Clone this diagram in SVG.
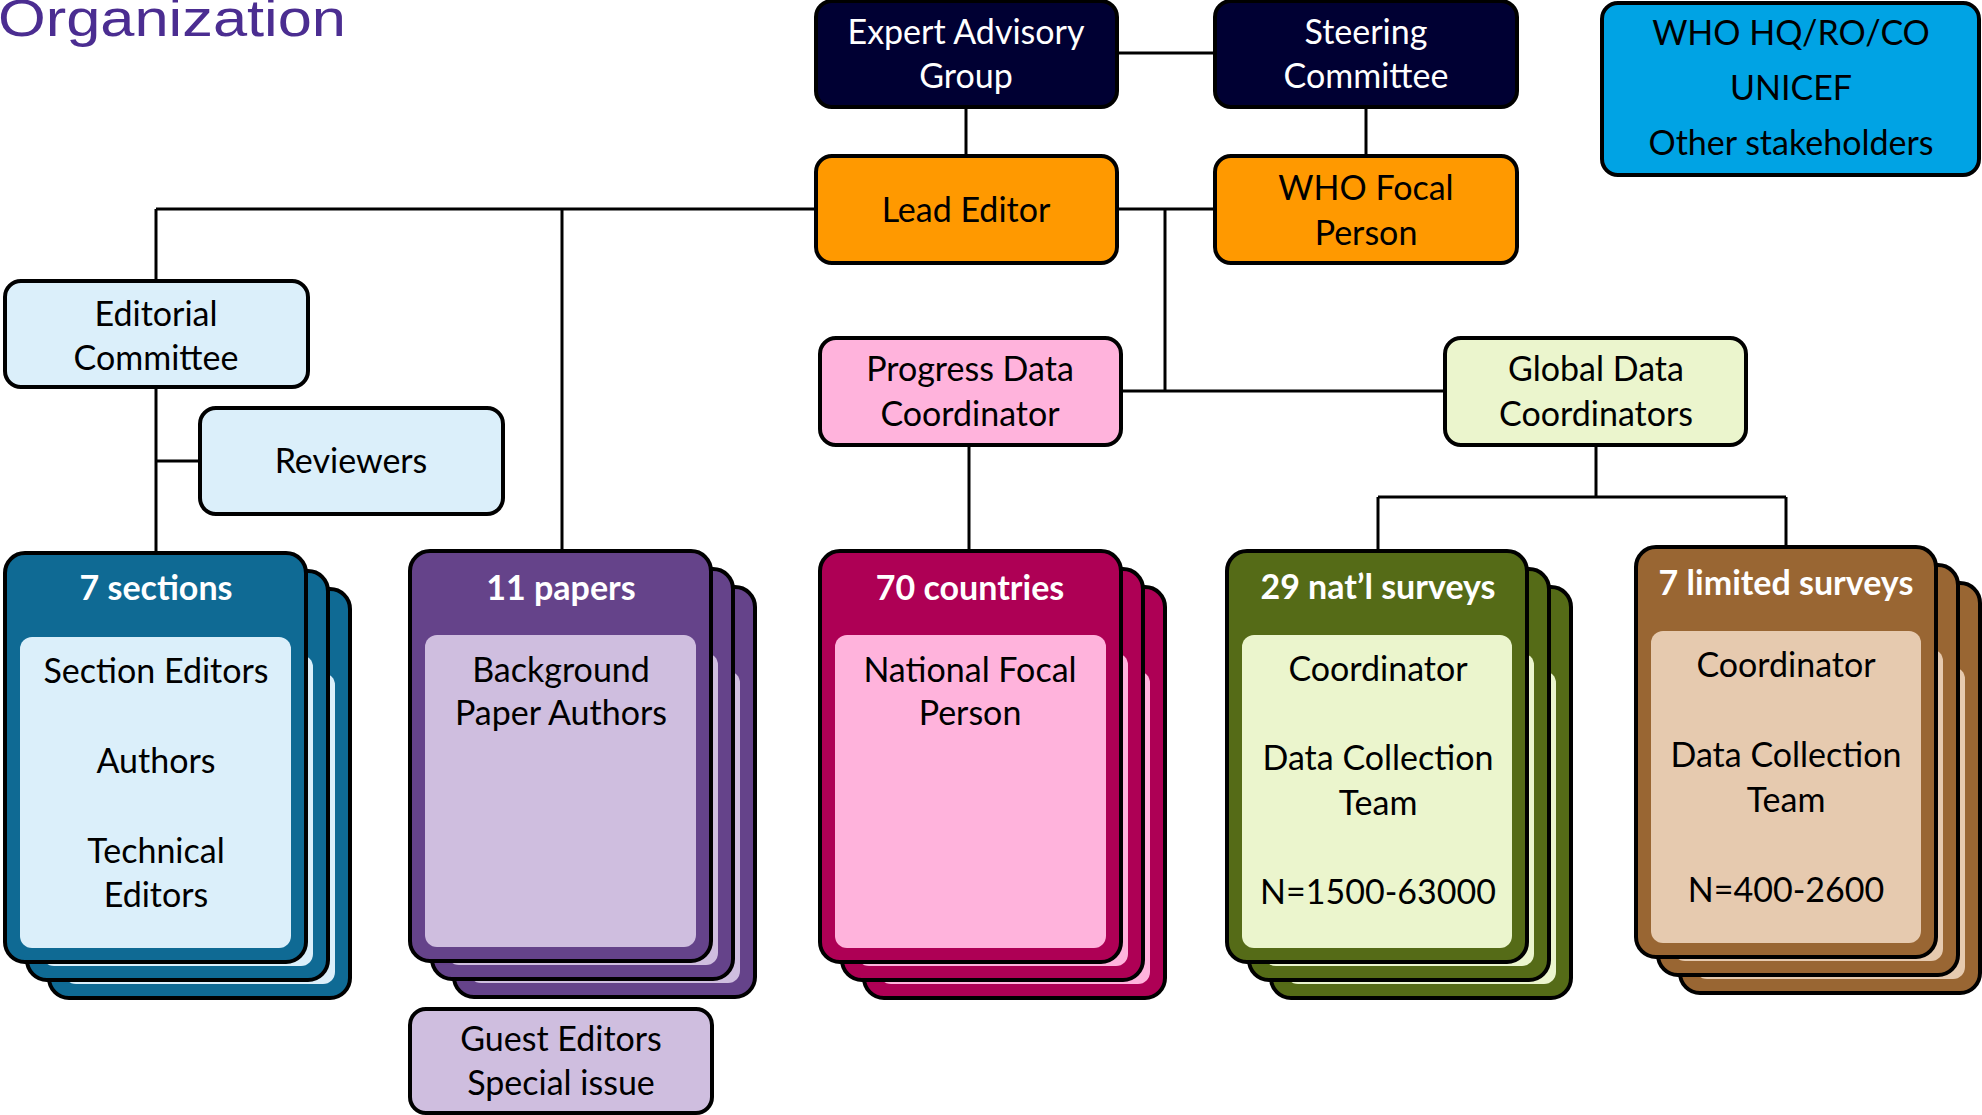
<svg xmlns="http://www.w3.org/2000/svg" width="1982" height="1115" viewBox="0 0 1982 1115">
<style>
.t{font-family:Lato,"Liberation Sans",sans-serif;font-size:34px;text-anchor:middle;fill:#000}
.w{fill:#fff}
.hd{font-weight:700;fill:#fff}
.bx{stroke:#000;stroke-width:4}
.ln{stroke:#000;stroke-width:3;fill:none}
.navy{fill:#000033}.orange{fill:#FF9900}.blue{fill:#00A3E4}.lblue{fill:#DBEFFA}
.teal{fill:#0F6A94}.purple{fill:#65438A}.lpurple{fill:#CFBEDF}
.mag{fill:#AE0055}.pink{fill:#FFB3DC}.olive{fill:#556B17}.lgreen{fill:#EBF5CD}
.brown{fill:#996633}.tan{fill:#E6CAAF}
</style>
<rect width="1982" height="1115" fill="#fff"/>
<text x="-2" y="36" font-family="Liberation Sans, Arial, sans-serif" font-size="52" fill="#4B2D91" textLength="348" lengthAdjust="spacingAndGlyphs">Organization</text>

<g id="connectors" class="ln">
<path d="M1117 53H1215"/>
<path d="M966 107V156"/>
<path d="M1366 107V156"/>
<path d="M1117 209H1215"/>
<path d="M1165 209V391"/>
<path d="M1121 391H1445"/>
<path d="M156 209H816"/>
<path d="M156 209V281"/>
<path d="M156 387V553"/>
<path d="M156 461H200"/>
<path d="M562 209V551"/>
<path d="M969 445V551"/>
<path d="M1596 445V497"/>
<path d="M1378 497H1786"/>
<path d="M1378 497V551"/>
<path d="M1786 497V547"/>
</g>

<g id="expert-advisory-group">
<rect class="bx navy" x="816" y="1" width="301" height="106" rx="16"/>
<text class="t w" x="966" y="44">Expert Advisory</text>
<text class="t w" x="966" y="88">Group</text>
</g>
<g id="steering-committee">
<rect class="bx navy" x="1215" y="1" width="302" height="106" rx="16"/>
<text class="t w" x="1366" y="44">Steering</text>
<text class="t w" x="1366" y="88">Committee</text>
</g>
<g id="who-hq">
<rect class="bx blue" x="1602" y="3" width="377" height="172" rx="16"/>
<text class="t" x="1791" y="45">WHO HQ/RO/CO</text>
<text class="t" x="1791" y="100">UNICEF</text>
<text class="t" x="1791" y="155">Other stakeholders</text>
</g>
<g id="lead-editor">
<rect class="bx orange" x="816" y="156" width="301" height="107" rx="16"/>
<text class="t" x="966" y="222">Lead Editor</text>
</g>
<g id="who-focal-person">
<rect class="bx orange" x="1215" y="156" width="302" height="107" rx="16"/>
<text class="t" x="1366" y="200">WHO Focal</text>
<text class="t" x="1366" y="245">Person</text>
</g>
<g id="progress-data-coordinator">
<rect class="bx pink" x="820" y="338" width="301" height="107" rx="16"/>
<text class="t" x="970" y="381">Progress Data</text>
<text class="t" x="970" y="426">Coordinator</text>
</g>
<g id="global-data-coordinators">
<rect class="bx lgreen" x="1445" y="338" width="301" height="107" rx="16"/>
<text class="t" x="1596" y="381">Global Data</text>
<text class="t" x="1596" y="426">Coordinators</text>
</g>
<g id="editorial-committee">
<rect class="bx lblue" x="5" y="281" width="303" height="106" rx="16"/>
<text class="t" x="156" y="326">Editorial</text>
<text class="t" x="156" y="370">Committee</text>
</g>
<g id="reviewers">
<rect class="bx lblue" x="200" y="408" width="303" height="106" rx="16"/>
<text class="t" x="351" y="473">Reviewers</text>
</g>

<g id="sections">
<rect class="bx teal" x="49" y="589" width="301" height="409" rx="20"/>
<rect class="lblue" x="64" y="673" width="271" height="311" rx="12"/>
<rect class="bx teal" x="27" y="571" width="301" height="409" rx="20"/>
<rect class="lblue" x="42" y="655" width="271" height="311" rx="12"/>
<rect class="bx teal" x="5" y="553" width="301" height="409" rx="20"/>
<rect class="lblue" x="20" y="637" width="271" height="311" rx="12"/>
<text class="t hd" x="156" y="600">7 sections</text>
<text class="t" x="156" y="683">Section Editors</text>
<text class="t" x="156" y="773">Authors</text>
<text class="t" x="156" y="863">Technical</text>
<text class="t" x="156" y="907">Editors</text>
</g>

<g id="papers">
<rect class="bx purple" x="454" y="587" width="301" height="410" rx="20"/>
<rect class="lpurple" x="469" y="671" width="271" height="312" rx="12"/>
<rect class="bx purple" x="432" y="569" width="301" height="410" rx="20"/>
<rect class="lpurple" x="447" y="653" width="271" height="312" rx="12"/>
<rect class="bx purple" x="410" y="551" width="301" height="410" rx="20"/>
<rect class="lpurple" x="425" y="635" width="271" height="312" rx="12"/>
<text class="t hd" x="561" y="600">11 papers</text>
<text class="t" x="561" y="682">Background</text>
<text class="t" x="561" y="725">Paper Authors</text>
</g>

<g id="guest-editors">
<rect class="bx lpurple" x="410" y="1009" width="302" height="104" rx="16"/>
<text class="t" x="561" y="1051">Guest Editors</text>
<text class="t" x="561" y="1095">Special issue</text>
</g>

<g id="countries">
<rect class="bx mag" x="864" y="587" width="301" height="411" rx="20"/>
<rect class="pink" x="879" y="671" width="271" height="313" rx="12"/>
<rect class="bx mag" x="842" y="569" width="301" height="411" rx="20"/>
<rect class="pink" x="857" y="653" width="271" height="313" rx="12"/>
<rect class="bx mag" x="820" y="551" width="301" height="411" rx="20"/>
<rect class="pink" x="835" y="635" width="271" height="313" rx="12"/>
<text class="t hd" x="970" y="600">70 countries</text>
<text class="t" x="970" y="682">National Focal</text>
<text class="t" x="970" y="725">Person</text>
</g>

<g id="national-surveys">
<rect class="bx olive" x="1271" y="587" width="300" height="411" rx="20"/>
<rect class="lgreen" x="1286" y="671" width="270" height="313" rx="12"/>
<rect class="bx olive" x="1249" y="569" width="300" height="411" rx="20"/>
<rect class="lgreen" x="1264" y="653" width="270" height="313" rx="12"/>
<rect class="bx olive" x="1227" y="551" width="300" height="411" rx="20"/>
<rect class="lgreen" x="1242" y="635" width="270" height="313" rx="12"/>
<text class="t hd" x="1378" y="599">29 nat’l surveys</text>
<text class="t" x="1378" y="681">Coordinator</text>
<text class="t" x="1378" y="770">Data Collection</text>
<text class="t" x="1378" y="815">Team</text>
<text class="t" x="1378" y="904">N=1500-63000</text>
</g>

<g id="limited-surveys">
<rect class="bx brown" x="1680" y="583" width="300" height="410" rx="20"/>
<rect class="tan" x="1695" y="667" width="270" height="312" rx="12"/>
<rect class="bx brown" x="1658" y="565" width="300" height="410" rx="20"/>
<rect class="tan" x="1673" y="649" width="270" height="312" rx="12"/>
<rect class="bx brown" x="1636" y="547" width="300" height="410" rx="20"/>
<rect class="tan" x="1651" y="631" width="270" height="312" rx="12"/>
<text class="t hd" x="1786" y="595">7 limited surveys</text>
<text class="t" x="1786" y="677">Coordinator</text>
<text class="t" x="1786" y="767">Data Collection</text>
<text class="t" x="1786" y="812">Team</text>
<text class="t" x="1786" y="902">N=400-2600</text>
</g>
</svg>
